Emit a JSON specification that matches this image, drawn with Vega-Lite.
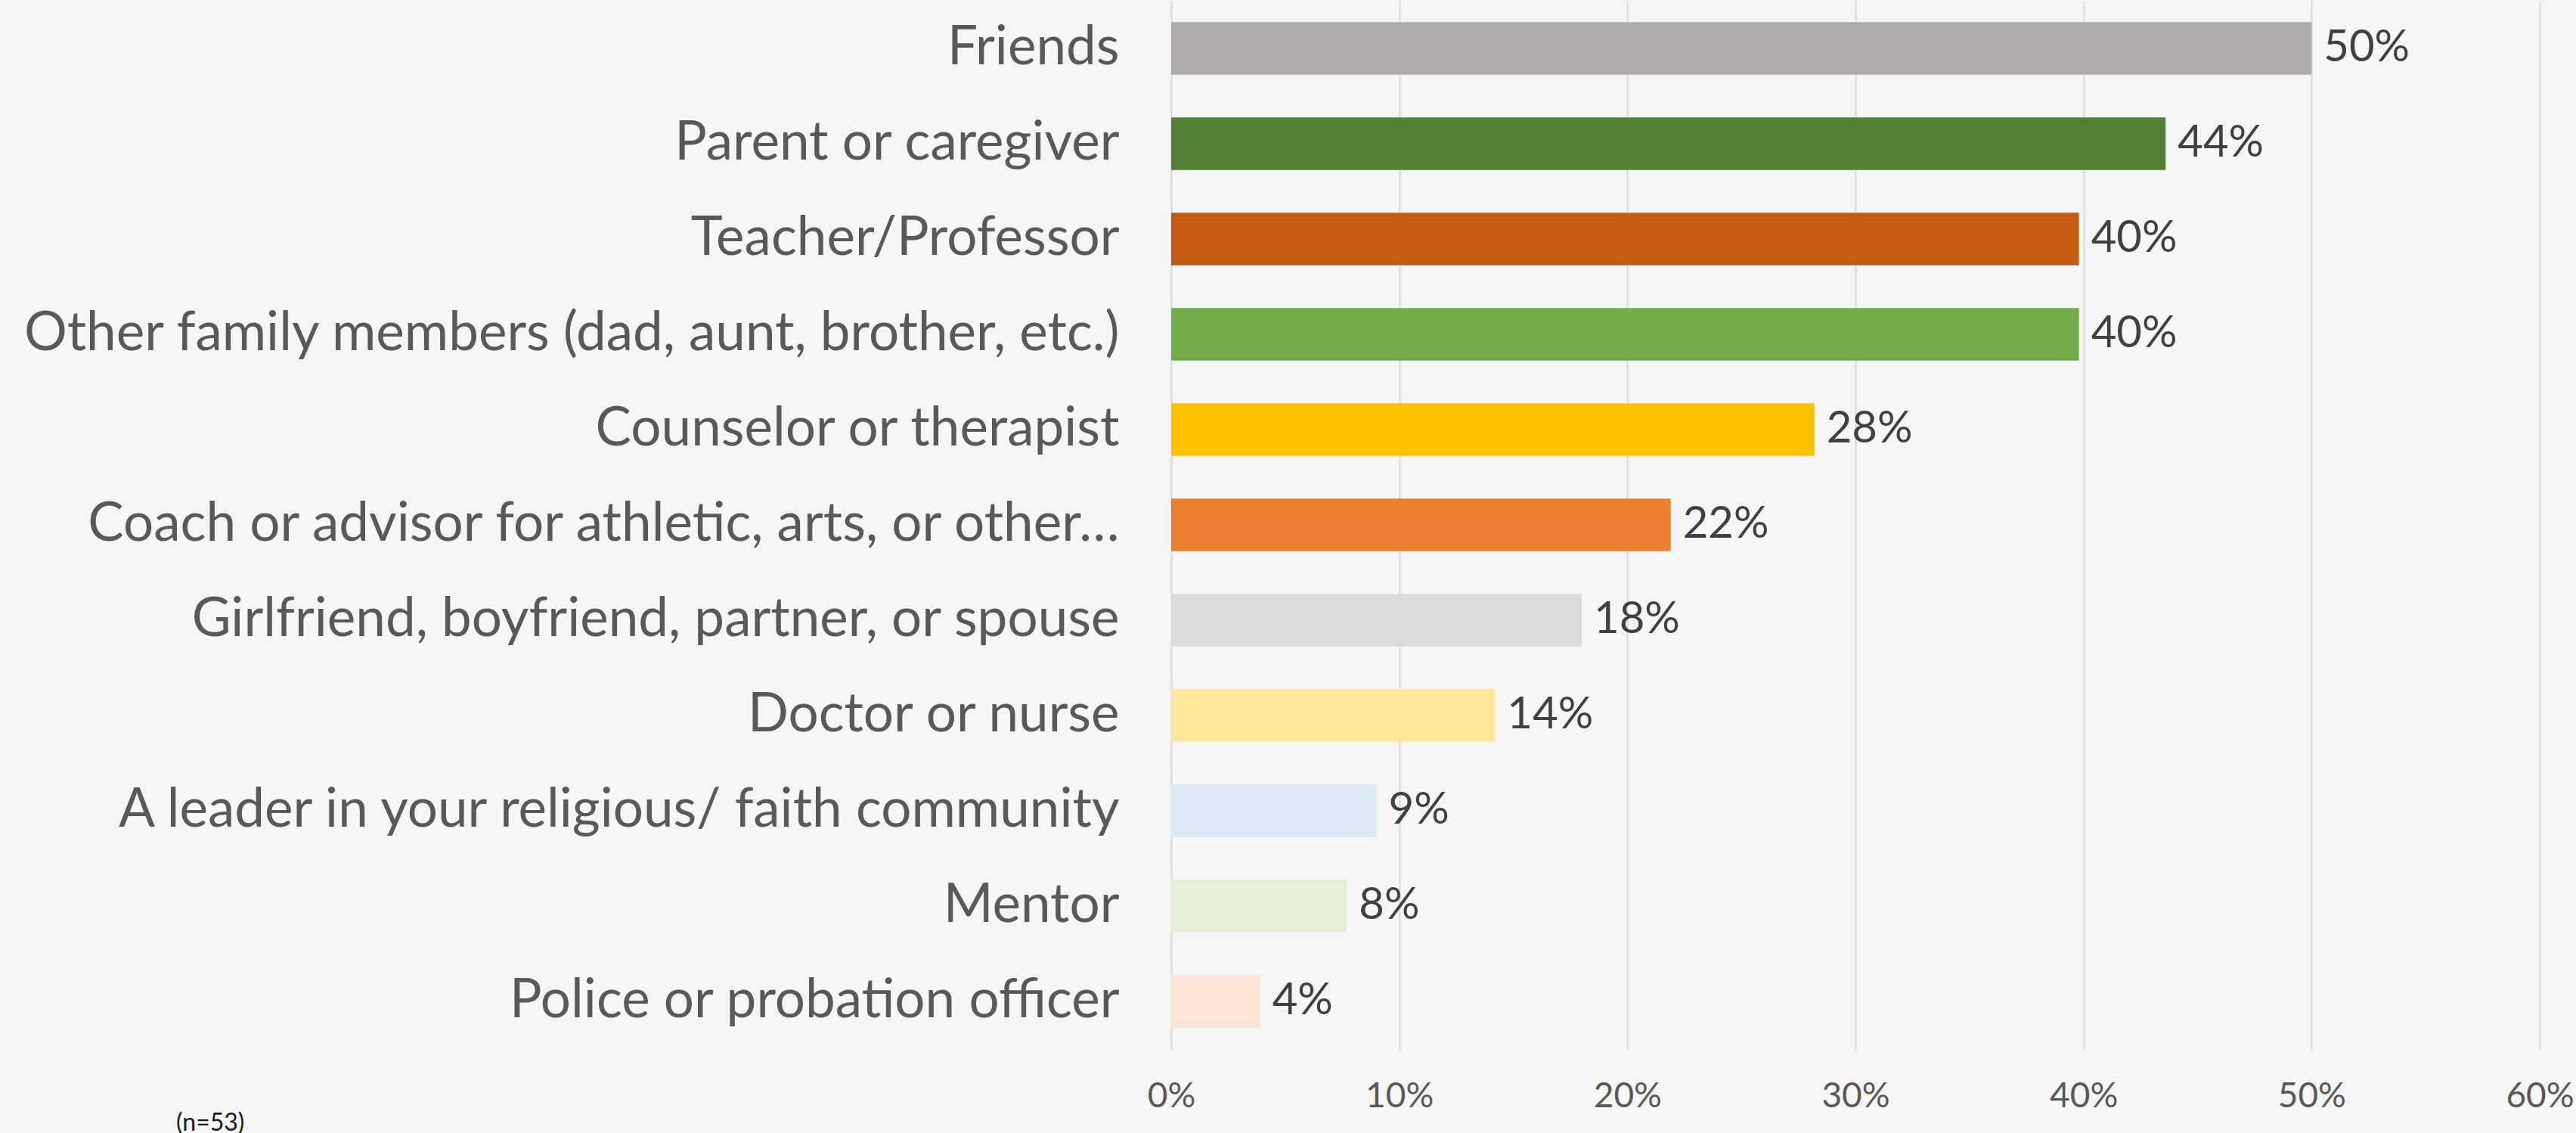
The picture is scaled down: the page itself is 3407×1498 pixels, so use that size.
{
  "$schema": "https://vega.github.io/schema/vega-lite/v6.json",
  "width": 1810,
  "height": 1386,
  "autosize": {"type": "none"},
  "padding": {"left": 1549, "top": 1, "right": 48, "bottom": 111},
  "background": "#F6F6F6",
  "config": {"view": {"stroke": null}, "font": "Lato"},
  "title": {"text": "(n=53)", "orient": "bottom", "anchor": "start", "frame": "group", "dx": -1316, "offset": -2, "baseline": "top", "fontSize": 32, "fontWeight": "normal", "color": "#1a1a1a", "font": "Lato"},
  "data": {"values": [
    {"category": "Friends", "value": 0.50, "color": "#AFABAB"},
    {"category": "Parent or caregiver", "value": 0.436, "color": "#538135"},
    {"category": "Teacher/Professor", "value": 0.398, "color": "#C55A11"},
    {"category": "Other family members (dad, aunt, brother, etc.)", "value": 0.398, "color": "#70AD47"},
    {"category": "Counselor or therapist", "value": 0.282, "color": "#FFC000"},
    {"category": "Coach or advisor for athletic, arts, or other…", "value": 0.219, "color": "#ED7D31"},
    {"category": "Girlfriend, boyfriend, partner, or spouse", "value": 0.18, "color": "#DBDBDB"},
    {"category": "Doctor or nurse", "value": 0.142, "color": "#FFE699"},
    {"category": "A leader in your religious/ faith community", "value": 0.09, "color": "#DEEBF7"},
    {"category": "Mentor", "value": 0.077, "color": "#E2F0D9"},
    {"category": "Police or probation officer", "value": 0.039, "color": "#FBE5D6"}
  ]},
  "encoding": {
    "y": {"field": "category", "type": "nominal", "sort": null,
      "scale": {"paddingInner": 0.45, "paddingOuter": 0.225},
      "axis": {"title": null, "domain": false, "ticks": false, "labelFontSize": 71, "labelColor": "#595959", "labelPadding": 69, "labelLimit": 1600, "labelFont": "Lato"}},
    "x": {"field": "value", "type": "quantitative",
      "scale": {"domain": [0, 0.6], "nice": false},
      "axis": {"title": null, "format": ".0%", "values": [0, 0.1, 0.2, 0.3, 0.4, 0.5, 0.6], "domain": false, "ticks": false, "grid": true, "gridColor": "#D9D9D9", "gridWidth": 2, "labelFontSize": 46, "labelColor": "#595959", "labelPadding": 40, "labelFlush": false, "labelFont": "Lato"}}
  },
  "layer": [
    {"mark": {"type": "bar"}, "encoding": {"color": {"field": "color", "type": "nominal", "scale": null}}},
    {"mark": {"type": "text", "align": "left", "baseline": "middle", "dx": 16, "fontSize": 58, "color": "#404040", "font": "Lato"},
      "encoding": {"text": {"field": "value", "type": "quantitative", "format": ".0%"}}}
  ]
}
